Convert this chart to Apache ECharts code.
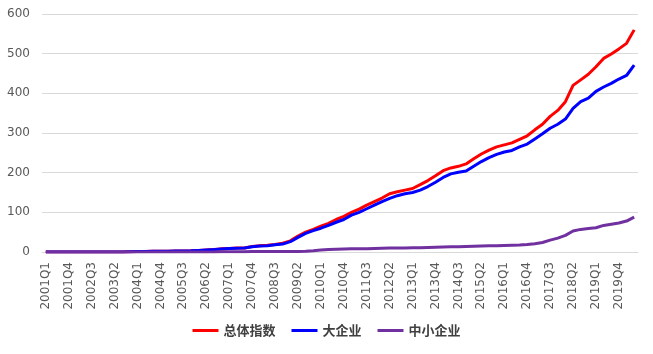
<!DOCTYPE html>
<html>
<head>
<meta charset="utf-8">
<script src="https://cdn.jsdelivr.net/npm/echarts@6/dist/echarts.min.js"></script>
<style>
  html, body { margin: 0; padding: 0; background: #fff; }
  #main { width: 653px; height: 354px; }
</style>
</head>
<body>
<div id="main"></div>
<script>
var chartDom = document.getElementById('main');
var myChart = echarts.init(chartDom);
var option;

// quarters 2001Q1 .. 2020Q2
let quarters = [];
for (let y = 2001; y <= 2020; y++) {
  for (let q = 1; q <= 4; q++) {
    if (y === 2020 && q > 2) break;
    quarters.push(y + 'Q' + q);
  }
}

let seriesNames = ['总体指数', '大企业', '中小企业'];

let totalIndex = [
  0, 0, 0, 0, 0, 0, 0, 0, 0, 0,
  0, 0.5, 1, 1.5, 2, 2, 2, 2.5, 2.5, 3,
  4, 5, 6, 8, 9, 10, 10, 14, 16, 17,
  19, 22, 28, 40, 50, 57, 65, 72, 82, 90,
  100, 108, 118, 127, 136, 147, 152, 156, 160, 170,
  180, 192, 205, 212, 216, 222, 235, 247, 257, 265,
  270, 275, 284, 293, 308, 322, 342, 357, 379, 420,
  434, 448, 467, 488, 499, 512, 526, 560
];
let largeFirms = [
  0, 0, 0, 0, 0, 0, 0, 0, 0, 0,
  0, 0.5, 1, 1.5, 2, 2, 2, 2.5, 2.5, 3,
  4, 5, 6, 7.5, 9, 9.5, 10, 13, 15, 16,
  18, 20, 26, 37, 47, 54, 60, 67, 75, 82,
  93, 100, 109, 118, 127, 135, 142, 147, 150, 156,
  165, 176, 188, 197, 201, 204, 216, 228, 238, 246,
  252, 256, 265, 272, 285, 298, 312, 322, 335, 362,
  379, 388, 405, 416, 425, 436, 445, 471
];
let smeFirms = [
  0, 0, 0, 0, 0, 0, 0, 0, 0, 0,
  0, 0, 0, 0, 0, 0, 0, 0, 0, 0,
  0, 0, 0, 0.5, 0.5, 0.5, 0.5, 1, 1, 1,
  1, 1, 1, 1.5, 2, 3, 5, 6, 7, 7.5,
  8, 8, 8.5, 9, 9.5, 10, 10, 10, 10.5, 11,
  11.5, 12, 12.5, 13, 13.5, 14, 14.5, 15, 15.5, 16,
  16.5, 17, 17.5, 19, 21, 24, 30, 35, 42, 53,
  57, 59, 61, 67, 70, 73, 78, 88
];

let colors = ['#ff0000', '#0000ff', '#7030a0'];

option = {
  animation: false,
  color: colors,
  grid: {
    left: 42,
    right: 15,
    top: 14,
    bottom: 102
  },
  legend: {
    data: seriesNames,
    bottom: 12,
    left: 'center',
    icon: 'rect',
    itemWidth: 26,
    itemHeight: 3,
    itemGap: 16,
    textStyle: {
      fontFamily: 'Noto Sans CJK SC',
      fontSize: 13,
      fontWeight: 'bold',
      color: '#404040'
    }
  },
  xAxis: {
    type: 'category',
    data: quarters,
    boundaryGap: true,
    axisLine: { lineStyle: { color: '#d9d9d9' } },
    axisTick: { show: false },
    axisLabel: {
      interval: 2,
      rotate: 90,
      margin: 10,
      fontFamily: 'DejaVu Sans',
      fontSize: 12,
      color: '#595959'
    }
  },
  yAxis: {
    type: 'value',
    min: 0,
    max: 600,
    interval: 100,
    axisLine: { show: false },
    axisTick: { show: false },
    splitLine: { lineStyle: { color: '#d9d9d9' } },
    axisLabel: {
      margin: 12,
      fontFamily: 'DejaVu Sans',
      fontSize: 12,
      color: '#595959'
    }
  },
  series: [
    {
      name: seriesNames[0],
      type: 'line',
      data: totalIndex,
      showSymbol: false,
      lineStyle: { width: 3 }
    },
    {
      name: seriesNames[1],
      type: 'line',
      data: largeFirms,
      showSymbol: false,
      lineStyle: { width: 3 }
    },
    {
      name: seriesNames[2],
      type: 'line',
      data: smeFirms,
      showSymbol: false,
      lineStyle: { width: 3 }
    }
  ]
};

option && myChart.setOption(option);
</script>
</body>
</html>
